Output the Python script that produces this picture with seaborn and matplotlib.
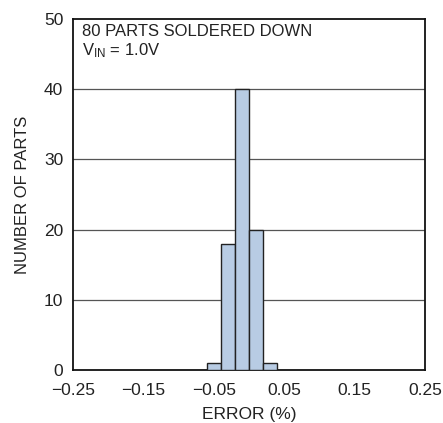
import matplotlib
matplotlib.use("Agg")
import matplotlib.pyplot as plt
import seaborn as sns
import numpy as np

bin_centers = [-0.05, -0.03, -0.01, 0.01, 0.03]
counts = [1, 18, 40, 20, 1]
bin_edges = [-0.06, -0.04, -0.02, 0.0, 0.02, 0.04]
xticks = [-0.25, -0.15, -0.05, 0.05, 0.15, 0.25]
xtick_labels = ["\u22120.25", "\u22120.15", "\u22120.05", "0.05", "0.15", "0.25"]
yticks = [0, 10, 20, 30, 40, 50]

sns.set_theme(style="white")
plt.rcParams['font.family'] = ['Liberation Sans', 'DejaVu Sans']

fig = plt.figure(figsize=(4.43, 4.23), dpi=100)
ax = fig.add_axes([73/443, 53/423, 352/443, 351/423])

sns.histplot(x=bin_centers, weights=counts, bins=bin_edges, ax=ax,
             color="#b8cce4", edgecolor="#222222", linewidth=1.0, alpha=1.0, zorder=3)

ax.set_xlim(-0.25, 0.25)
ax.set_ylim(0, 50)
ax.set_xticks(xticks)
ax.set_xticklabels(xtick_labels)
ax.set_yticks(yticks)
for y in [10, 20, 30, 40]:
    ax.axhline(y, color="#555555", linewidth=0.9, zorder=1)

ax.tick_params(axis='x', labelsize=12.5, colors="#222222", length=0, pad=9)
ax.tick_params(axis='y', labelsize=12.5, colors="#222222", length=0, pad=7)
ax.set_xlabel("ERROR (%)", fontsize=12.5, color="#222222", labelpad=7)
ax.set_ylabel("NUMBER OF PARTS", fontsize=12, color="#222222", labelpad=10)
for s in ax.spines.values():
    s.set_color("#111111")
    s.set_linewidth(1.3)

ax.text(0.025, 0.985, "80 PARTS SOLDERED DOWN\n$\\mathregular{V_{IN}}$ = 1.0V",
        transform=ax.transAxes, ha='left', va='top', fontsize=12,
        color="#222222", linespacing=1.15)

fig.savefig("out.png", dpi=100)
